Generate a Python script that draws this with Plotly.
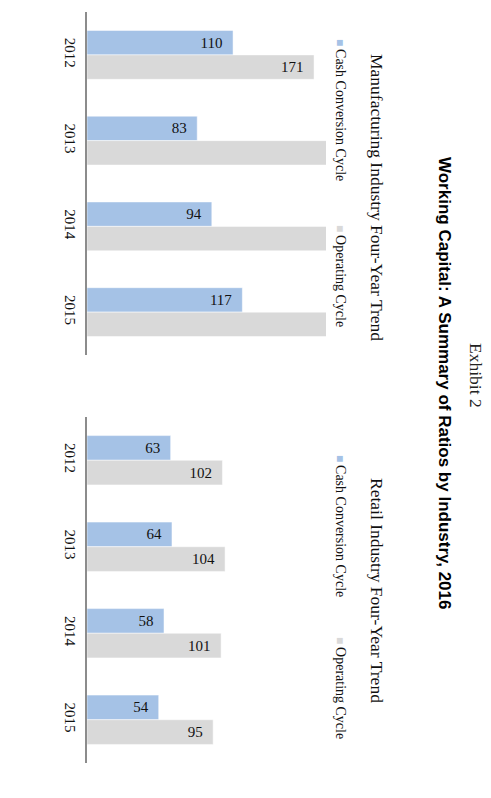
import plotly.graph_objects as go
from plotly.subplots import make_subplots

years = ["2012", "2013", "2014", "2015"]
series_names = ["Cash Conversion Cycle", "Operating Cycle"]

# manufacturing (operating cycle 2013-2015 run past the axis end in the source)
mfg_cash = [110, 83, 94, 117]
mfg_oper = [171, 195, 198, 205]

retail_cash = [63, 64, 58, 54]
retail_oper = [102, 104, 101, 95]

colors = ["#A5C2E6", "#D9D9D9"]
x_max = 180

# page body has an 8px margin, so the figure is a bit smaller than the window
OFF = 8
W, H = 491 - OFF, 798 - OFF
SERIF = "Liberation Serif, Times New Roman, serif"
SANS = "Liberation Sans, Arial, sans-serif"


def px_x(v):
    return (v - OFF) / W


def px_y(v):
    return 1 - (v - OFF) / H


def labels(vals):
    # label sits inside the bar end; bars cut off by the axis get none
    return ["" if v > x_max else f"{v}\u00a0\u00a0" for v in vals]


fig = make_subplots(rows=2, cols=1)

panels = [(mfg_cash, mfg_oper, 1), (retail_cash, retail_oper, 2)]
for cash, oper, row in panels:
    for name, vals, col in zip(series_names, [cash, oper], colors):
        fig.add_trace(
            go.Bar(
                y=years,
                x=vals,
                orientation="h",
                name=name,
                marker=dict(color=col, line=dict(color="white", width=0.5)),
                text=labels(vals),
                textposition="inside",
                insidetextanchor="end",
                textangle=0,
                constraintext="none",
                textfont=dict(family=SERIF, size=15, color="#111111"),
                showlegend=False,
                hoverinfo="skip",
            ),
            row=row,
            col=1,
        )

x_dom = [px_x(87), px_x(326)]
fig.update_xaxes(range=[0, x_max], domain=x_dom, showgrid=False, zeroline=False,
                 showticklabels=False, showline=False, ticks="")
fig.update_yaxes(autorange="reversed", showgrid=False, zeroline=False, showline=True,
                 linecolor="#8C8C8C", linewidth=1.5, ticks="", tickangle=90,
                 ticklabelstandoff=2,
                 tickfont=dict(family=SERIF, size=15, color="#111111"))
fig.update_layout(
    yaxis=dict(domain=[px_y(355), px_y(12)]),
    yaxis2=dict(domain=[px_y(763), px_y(417)]),
)

fig.update_layout(
    width=W,
    height=H,
    barmode="group",
    bargap=0.43,
    bargroupgap=0,
    plot_bgcolor="white",
    paper_bgcolor="white",
    margin=dict(l=0, r=0, t=0, b=0),
    showlegend=False,
)

# rotated page texts
texts = [
    ("Exhibit 2", 476, 375, SERIF, 17.5, "#222222"),
    ("<b>Working Capital: A Summary of Ratios by Industry, 2016</b>", 445, 383, SANS, 17, "#000000"),
    ("Manufacturing Industry Four-Year Trend", 377, 197, SERIF, 17.5, "#111111"),
    ("Retail Industry Four-Year Trend", 377, 590, SERIF, 17.5, "#111111"),
]
for t, x, y, fam, size, col in texts:
    fig.add_annotation(text=t, x=px_x(x), y=px_y(y), xref="paper", yref="paper",
                       showarrow=False, textangle=90, xanchor="center", yanchor="middle",
                       font=dict(family=fam, size=size, color=col))

# legends, drawn as rotated text
legend_pos = [(110, 276), (526, 688)]
for y1, y2 in legend_pos:
    for name, col, y in zip(series_names, colors, [y1, y2]):
        fig.add_annotation(
            text=f"<span style='color:{col};font-size:12px'>■</span>\u2009{name}",
            x=px_x(341), y=px_y(y), xref="paper", yref="paper",
            showarrow=False, textangle=90, xanchor="center", yanchor="middle",
            font=dict(family=SERIF, size=14, color="#111111"))

fig.write_html("out.html")
